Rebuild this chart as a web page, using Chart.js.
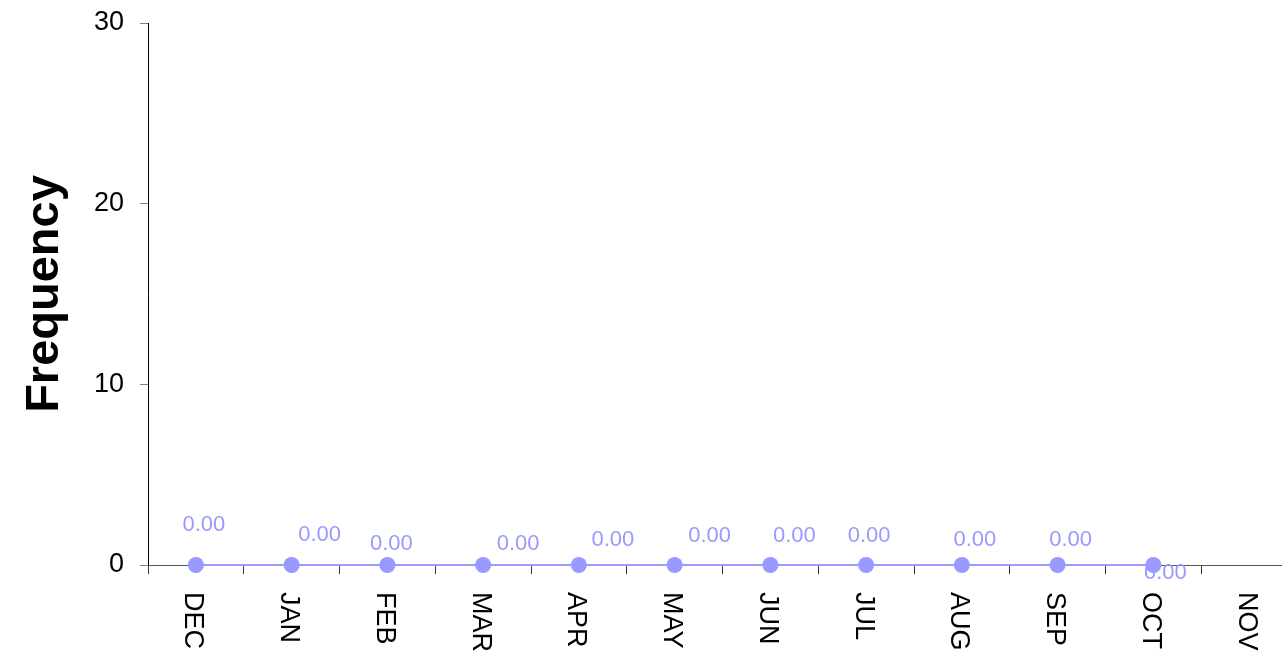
<!DOCTYPE html>
<html>
<head>
<meta charset="utf-8">
<script src="https://cdn.jsdelivr.net/npm/chart.js@4/dist/chart.umd.min.js"></script>
<style>
    html, body { margin: 0; padding: 0; background: #fff; overflow: hidden; }
    #chart { display: block; }
</style>
</head>
<body>
<canvas id="chart" width="1305" height="658"></canvas>
<script>
// Months along the x axis
const months = ['DEC', 'JAN', 'FEB', 'MAR', 'APR', 'MAY', 'JUN', 'JUL', 'AUG', 'SEP', 'OCT', 'NOV'];

// Frequency per month (no value for NOV)
const frequency = [0, 0, 0, 0, 0, 0, 0, 0, 0, 0, 0, null];

// Y axis ticks
const yTicks = [0, 10, 20, 30];

// Where each value label sits relative to its point (dx, dy in px)
const labelOffsets = [
    [8, -40], [28, -30], [4, -21], [35, -21], [34, -25], [35, -29],
    [24, -29], [3, -29], [13, -25], [13, -25], [12, 8]
];

const FONT = '"Liberation Sans", Arial, sans-serif';
const SERIES_COLOR = '#9999ff';

// Value labels, drawn under the markers like the original
const valueLabels = {
    id: 'valueLabels',
    beforeDatasetsDraw(chart) {
        const ctx = chart.ctx;
        const meta = chart.getDatasetMeta(0);
        ctx.save();
        ctx.font = '22px ' + FONT;
        ctx.fillStyle = SERIES_COLOR;
        ctx.textAlign = 'center';
        ctx.textBaseline = 'middle';
        meta.data.forEach((pt, i) => {
            const v = frequency[i];
            if (v === null || v === undefined) return;
            const off = labelOffsets[i] || [0, -25];
            ctx.fillText(v.toFixed(2), pt.x + off[0], pt.y + off[1]);
        });
        ctx.restore();
    }
};

// Month labels read top to bottom (rotated clockwise)
const monthLabels = {
    id: 'monthLabels',
    afterDraw(chart) {
        const ctx = chart.ctx;
        const xScale = chart.scales.x;
        const top = chart.chartArea.bottom + 27;
        ctx.save();
        ctx.font = '27px ' + FONT;
        ctx.fillStyle = '#000';
        ctx.textAlign = 'left';
        ctx.textBaseline = 'middle';
        months.forEach((m, i) => {
            const x = xScale.getPixelForTick(i) - 3;
            ctx.save();
            ctx.translate(x, top);
            ctx.rotate(Math.PI / 2);
            ctx.fillText(m, 0, 0);
            ctx.restore();
        });
        ctx.restore();
    }
};

new Chart(document.getElementById('chart'), {
    type: 'line',
    data: {
        labels: months,
        datasets: [{
            data: frequency,
            borderColor: SERIES_COLOR,
            backgroundColor: SERIES_COLOR,
            borderWidth: 2,
            pointRadius: 8,
            pointBorderWidth: 0,
            pointBackgroundColor: SERIES_COLOR,
            fill: false,
            tension: 0,
            spanGaps: false,
            clip: false
        }]
    },
    options: {
        responsive: false,
        animation: false,
        layout: { padding: { top: 23, right: 0, bottom: 0, left: 0 } },
        plugins: {
            legend: { display: false },
            tooltip: { enabled: false }
        },
        scales: {
            x: {
                offset: true,
                grid: {
                    offset: true,
                    drawOnChartArea: false,
                    tickLength: 9,
                    color: '#333'
                },
                border: { color: '#555', width: 1 },
                ticks: { display: false },
                afterFit(scale) { scale.height = 93; }
            },
            y: {
                min: yTicks[0],
                max: yTicks[yTicks.length - 1],
                afterBuildTicks(scale) {
                    scale.ticks = yTicks.map(v => ({ value: v }));
                },
                ticks: {
                    color: '#000',
                    padding: 16,
                    font: { family: FONT, size: 27 }
                },
                grid: {
                    drawOnChartArea: false,
                    tickLength: 8,
                    color: '#808080'
                },
                border: { color: '#000', width: 1 },
                title: {
                    display: true,
                    text: 'Frequency',
                    color: '#000',
                    font: { family: FONT, size: 47, weight: 'bold' },
                    padding: { top: 17, bottom: 0 }
                },
                afterFit(scale) {
                    scale.width = 148;
                    scale.paddingTop = 0;
                    scale.paddingBottom = 0;
                }
            }
        }
    },
    plugins: [valueLabels, monthLabels]
});
</script>
</body>
</html>
